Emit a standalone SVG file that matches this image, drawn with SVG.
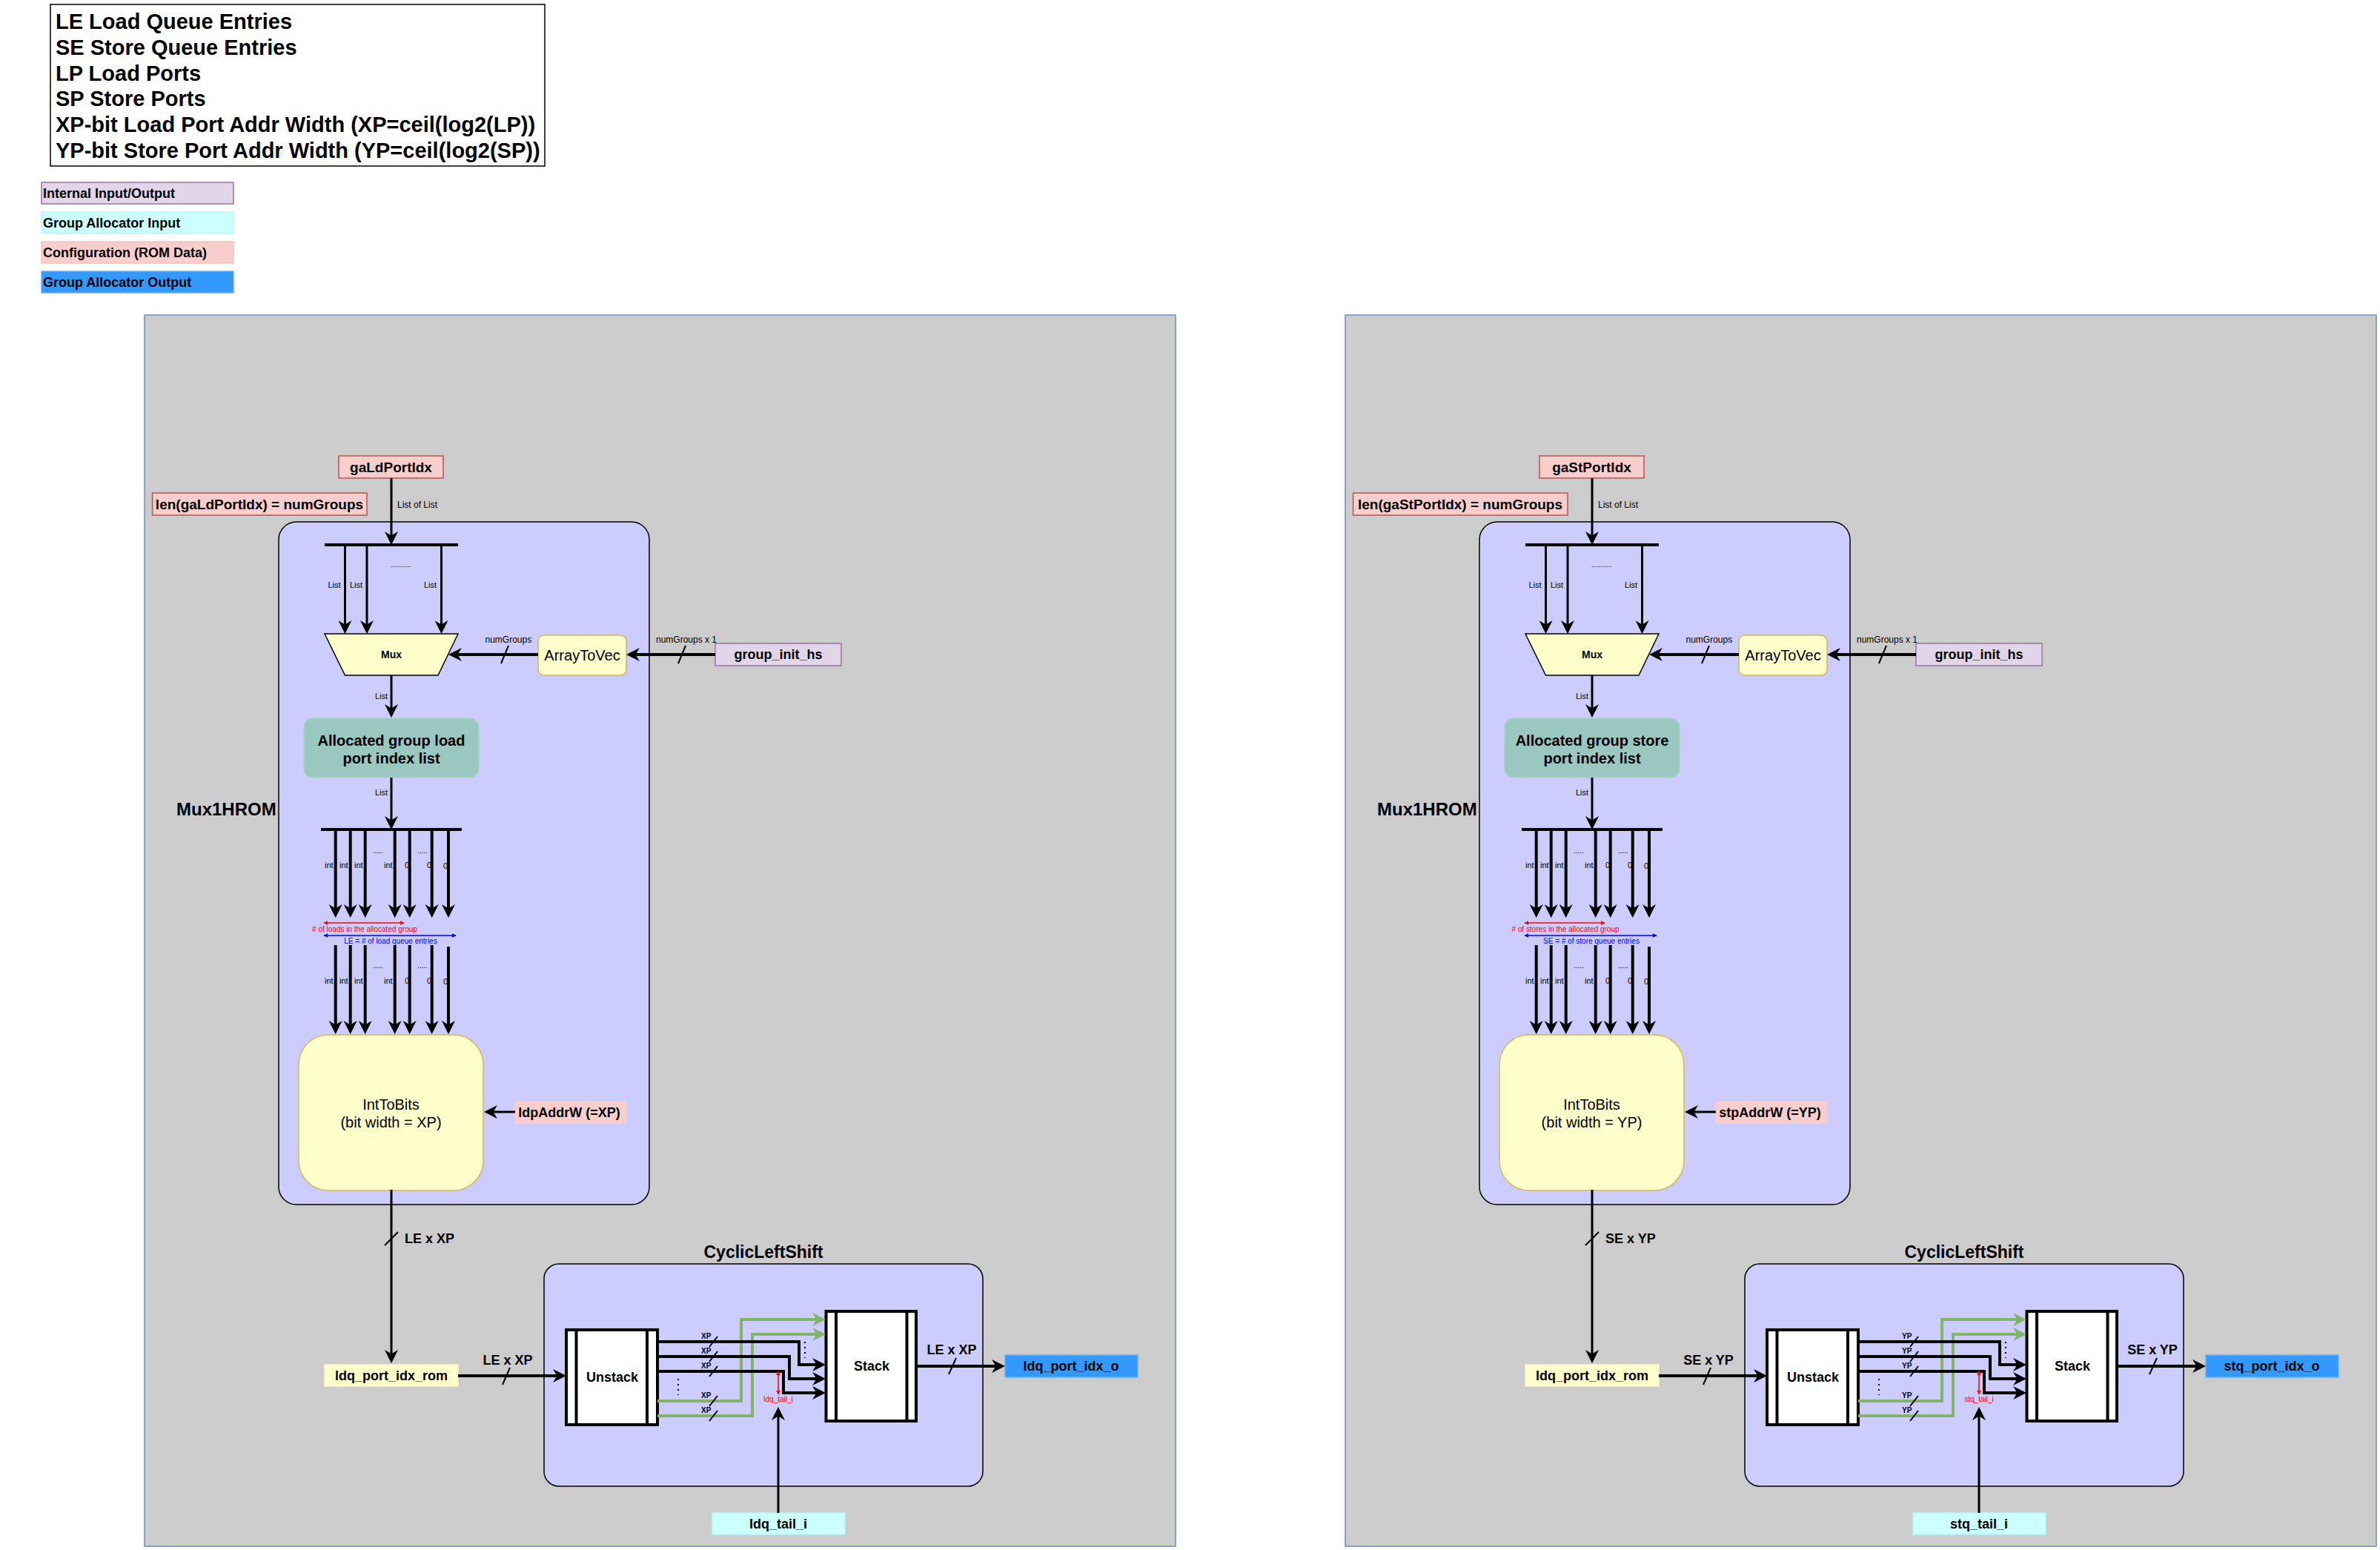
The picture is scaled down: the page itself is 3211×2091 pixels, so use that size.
<svg xmlns="http://www.w3.org/2000/svg" width="3211" height="2091" viewBox="0 0 3211 2091">
<defs>
<style>
.b{font-family:"Liberation Sans",Arial,sans-serif;font-weight:bold;fill:#000}
.r{font-family:"Liberation Sans",Arial,sans-serif;fill:#000}
.m{text-anchor:middle}
.panel{fill:#cccccc;stroke:#6c8ebf;stroke-width:1.5}
.grp{fill:#ccccff;stroke:#000;stroke-width:1.5}
.yel{fill:#ffffcc;stroke:#d6b656;stroke-width:1.5}
.pink{fill:#f8cecc;stroke:#b85450;stroke-width:1.5}
.pinkn{fill:#f8cecc;stroke:#f8cecc;stroke-width:1.5}
.purp{fill:#e1d5e7;stroke:#9673a6;stroke-width:1.5}
.cyan{fill:#ccffff;stroke:#b9f5f5;stroke-width:1.5}
.blue{fill:#3399ff;stroke:#66b2ff;stroke-width:1.5}
.teal{fill:#9ac7bf;stroke:#a9d3cb;stroke-width:1.5}
.romc{fill:#ffffcc;stroke:#fff2cc;stroke-width:1.5}
.proc{fill:#fff;stroke:#000;stroke-width:4}
.w3{fill:none;stroke:#000;stroke-width:3}
.w4{fill:none;stroke:#000;stroke-width:4}
.g4{fill:none;stroke:#82b366;stroke-width:4}
.sl{fill:none;stroke:#000;stroke-width:2}
.a{marker-end:url(#ah)}
.ag{marker-end:url(#ahg)}
</style>
<marker id="ah" viewBox="0 0 20 20" refX="11" refY="10" markerWidth="18" markerHeight="18" markerUnits="userSpaceOnUse" orient="auto"><path d="M0,0 L20,10 L0,20 L6,10 Z" fill="#000"/></marker>
<marker id="ahg" viewBox="0 0 20 20" refX="11" refY="10" markerWidth="18" markerHeight="18" markerUnits="userSpaceOnUse" orient="auto"><path d="M0,0 L20,10 L0,20 L6,10 Z" fill="#82b366"/></marker>
<marker id="sr" viewBox="0 0 10 10" refX="9" refY="5" markerWidth="6" markerHeight="6" markerUnits="userSpaceOnUse" orient="auto-start-reverse"><path d="M0,0 L10,5 L0,10 Z" fill="#ff0000"/></marker>
<marker id="sb" viewBox="0 0 10 10" refX="9" refY="5" markerWidth="6" markerHeight="6" markerUnits="userSpaceOnUse" orient="auto-start-reverse"><path d="M0,0 L10,5 L0,10 Z" fill="#0000ff"/></marker>
</defs>
<rect x="0" y="0" width="3211" height="2091" fill="#ffffff"/>

<g id="legend">
<rect x="68" y="6" width="667" height="218" fill="#fff" stroke="#000" stroke-width="1.5"/>
<text class="b" font-size="29" x="75" y="39">LE Load Queue Entries</text>
<text class="b" font-size="29" x="75" y="74">SE Store Queue Entries</text>
<text class="b" font-size="29" x="75" y="109">LP Load Ports</text>
<text class="b" font-size="29" x="75" y="143">SP Store Ports</text>
<text class="b" font-size="29" x="75" y="178">XP-bit Load Port Addr Width (XP=ceil(log2(LP))</text>
<text class="b" font-size="29" x="75" y="213">YP-bit Store Port Addr Width (YP=ceil(log2(SP))</text>
</g>
<g id="legend-internal"><rect class="purp" x="56" y="246" width="259" height="29"/><text class="b" font-size="18" x="58" y="267">Internal Input/Output</text></g>
<g id="legend-input"><rect class="cyan" x="56" y="286" width="259" height="29"/><text class="b" font-size="18" x="58" y="307">Group Allocator Input</text></g>
<g id="legend-config"><rect fill="#f8cecc" stroke="#f3c0be" stroke-width="1.5" x="56" y="326" width="259" height="29"/><text class="b" font-size="18" x="58" y="347">Configuration (ROM Data)</text></g>
<g id="legend-output"><rect class="blue" x="56" y="366" width="259" height="29"/><text class="b" font-size="18" x="58" y="387">Group Allocator Output</text></g>

<!-- ================= LOAD SIDE ================= -->
<g id="load-side">
<rect id="load-panel" class="panel" x="195" y="425" width="1391" height="1661"/>
<g id="mux1hrom-ld"><rect class="grp" x="376" y="704" width="500" height="921" rx="24"/><text class="b" font-size="24" x="238" y="1100">Mux1HROM</text></g>
<g id="cyclic-ld"><rect class="grp" x="734" y="1705" width="592" height="300" rx="20"/><text class="b m" font-size="23" x="1030" y="1697">CyclicLeftShift</text></g>
<g id="ga-ld-port-idx"><rect class="pink" x="457" y="615" width="141" height="30"/><text class="b m" font-size="19" x="527.5" y="637">gaLdPortIdx</text></g>
<g id="len-ld"><rect class="pink" x="205.6" y="665" width="289.4" height="30"/><text class="b m" font-size="19" x="350" y="687">len(gaLdPortIdx) = numGroups</text></g>
<g id="mux-ld"><polygon points="438,855 618,855 591,911 465.5,911" fill="#ffffcc" stroke="#000" stroke-width="1.5"/><text class="b m" font-size="14" x="528" y="888">Mux</text></g>
<g id="arraytovec-ld"><rect class="yel" x="726" y="857" width="119" height="54" rx="8"/><text class="r m" font-size="20" x="785.5" y="891">ArrayToVec</text></g>
<g id="group-init-hs-ld"><rect class="purp" x="965" y="868" width="170" height="30"/><text class="b m" font-size="18" x="1050" y="889">group_init_hs</text></g>
<g id="alloc-ld"><rect class="teal" x="410" y="969" width="236" height="80" rx="12"/><text class="b m" font-size="20" x="528" y="1006">Allocated group load</text><text class="b m" font-size="20" x="528" y="1030">port index list</text></g>
<g id="inttobits-ld"><rect class="yel" x="403" y="1396" width="249" height="210" rx="40"/><text class="r m" font-size="20" x="527.5" y="1497">IntToBits</text><text class="r m" font-size="20" x="527.5" y="1521">(bit width = XP)</text></g>
<g id="ldpaddrw"><rect class="pinkn" x="695" y="1486" width="150" height="29"/><text class="b m" font-size="18" x="768" y="1507">ldpAddrW (=XP)</text></g>
<g id="ldq-port-idx-rom-ld"><rect class="romc" x="438" y="1841" width="180" height="29"/><text class="b m" font-size="18" x="528" y="1862">ldq_port_idx_rom</text></g>
<g id="unstack-ld"><rect class="proc" x="764" y="1794" width="123" height="128"/><line class="w4" x1="777.5" y1="1794" x2="777.5" y2="1922"/><line class="w4" x1="873" y1="1794" x2="873" y2="1922"/><text class="b m" font-size="18" x="826" y="1864">Unstack</text></g>
<g id="stack-ld"><rect class="proc" x="1114.5" y="1769" width="121.5" height="148"/><line class="w4" x1="1128" y1="1769" x2="1128" y2="1917"/><line class="w4" x1="1223.5" y1="1769" x2="1223.5" y2="1917"/><text class="b m" font-size="18" x="1176" y="1849">Stack</text></g>
<g id="ldq-port-idx-o"><rect class="blue" x="1356" y="1828" width="179" height="30"/><text class="b m" font-size="18" x="1445" y="1849">ldq_port_idx_o</text></g>
<g id="ldq-tail-i"><rect class="cyan" x="961" y="2041" width="179" height="29"/><text class="b m" font-size="18" x="1050" y="2062">ldq_tail_i</text></g>

<g id="connectors-ld">
<path class="w3 a" d="M528,645 V727"/>
<text class="r" font-size="12" x="536" y="685">List of List</text>
<path class="w4" d="M438,735 H618"/>
<path class="w3 a" d="M465.5,735 V847"/>
<path class="w3 a" d="M495,735 V847"/>
<path class="w3 a" d="M595.5,735 V847"/>
<text class="r" font-size="11" x="442.5" y="793">List</text>
<text class="r" font-size="11" x="472" y="793">List</text>
<text class="r" font-size="11" x="572" y="793">List</text>
<text class="r" font-size="9" x="527" y="765" fill="#333">...........</text>
<path class="w4 a" d="M726,883 H613"/>
<line class="sl" x1="676" y1="895" x2="686" y2="871"/>
<text class="r" font-size="12" x="654.5" y="867">numGroups</text>
<path class="w4 a" d="M965,883 H853"/>
<line class="sl" x1="915" y1="895" x2="925" y2="871"/>
<text class="r" font-size="12" x="885" y="867">numGroups x 1</text>
<path class="w3 a" d="M528,911 V960"/>
<text class="r" font-size="11" x="506" y="943">List</text>
<path class="w3 a" d="M528,1049 V1111"/>
<text class="r" font-size="11" x="506" y="1073">List</text>
<path class="w4" d="M433,1119 H623"/>
<path class="w4 a" d="M452.7,1119 V1230"/>
<path class="w4 a" d="M472.7,1119 V1230"/>
<path class="w4 a" d="M492.7,1119 V1230"/>
<path class="w4 a" d="M532.7,1119 V1230"/>
<path class="w4 a" d="M552.7,1119 V1230"/>
<path class="w4 a" d="M582.7,1119 V1230"/>
<path class="w4 a" d="M605,1119 V1230"/>
<text class="r" font-size="11" x="438" y="1171">int</text>
<text class="r" font-size="11" x="458" y="1171">int</text>
<text class="r" font-size="11" x="478" y="1171">int</text>
<text class="r" font-size="11" x="518" y="1171">int</text>
<text class="r" font-size="11" x="546" y="1171">0</text>
<text class="r" font-size="11" x="576" y="1171">0</text>
<text class="r" font-size="11" x="598" y="1172">0</text>
<text class="r" font-size="10" x="503" y="1151">.....</text>
<text class="r" font-size="10" x="563" y="1151">.....</text>
<line x1="437" y1="1245" x2="545" y2="1245" stroke="#ff0000" stroke-width="1.5" marker-start="url(#sr)" marker-end="url(#sr)"/>
<text class="r m" font-size="10" x="492" y="1257" style="fill:#ff0000"># of loads in the allocated group</text>
<line x1="437" y1="1262" x2="615" y2="1262" stroke="#0000ff" stroke-width="1.5" marker-start="url(#sb)" marker-end="url(#sb)"/>
<text class="r m" font-size="10" x="527" y="1273" style="fill:#0000ff">LE = # of load queue entries</text>
<path class="w4 a" d="M452.7,1275 V1387"/>
<path class="w4 a" d="M472.7,1275 V1387"/>
<path class="w4 a" d="M492.7,1275 V1387"/>
<path class="w4 a" d="M532.7,1275 V1387"/>
<path class="w4 a" d="M552.7,1275 V1387"/>
<path class="w4 a" d="M582.7,1275 V1387"/>
<path class="w4 a" d="M605,1277 V1387"/>
<text class="r" font-size="11" x="438" y="1327">int</text>
<text class="r" font-size="11" x="458" y="1327">int</text>
<text class="r" font-size="11" x="478" y="1327">int</text>
<text class="r" font-size="11" x="518" y="1327">int</text>
<text class="r" font-size="11" x="546" y="1327">0</text>
<text class="r" font-size="11" x="576" y="1327">0</text>
<text class="r" font-size="11" x="598" y="1328">0</text>
<text class="r" font-size="10" x="503" y="1306">.....</text>
<text class="r" font-size="10" x="563" y="1306">.....</text>
<path class="w3 a" d="M695,1500 H661"/>
<path class="w3 a" d="M528,1605 V1831"/>
<line class="sl" x1="519" y1="1680" x2="537" y2="1662"/>
<text class="b" font-size="18" x="546" y="1677">LE x XP</text>
<path class="w4 a" d="M618,1856 H756"/>
<line class="sl" x1="678" y1="1868" x2="688" y2="1845"/>
<text class="b m" font-size="18" x="685" y="1841">LE x XP</text>
<path class="g4 ag" d="M887,1890 H1000 V1780 H1106"/>
<path class="g4 ag" d="M887,1910 H1015 V1800 H1106"/>
<path class="w4 a" d="M887,1810 H1078 V1841 H1106"/>
<path class="w4 a" d="M887,1830 H1065 V1860 H1106"/>
<path class="w4 a" d="M887,1850 H1057 V1879 H1106"/>
<line class="sl" x1="957" y1="1817" x2="968" y2="1803"/>
<line class="sl" x1="957" y1="1837" x2="968" y2="1823"/>
<line class="sl" x1="957" y1="1857" x2="968" y2="1843"/>
<line class="sl" x1="957" y1="1897" x2="968" y2="1883"/>
<line class="sl" x1="957" y1="1917" x2="968" y2="1903"/>
<text class="b" font-size="10" x="946" y="1806">XP</text>
<text class="b" font-size="10" x="946" y="1826">XP</text>
<text class="b" font-size="10" x="946" y="1846">XP</text>
<text class="b" font-size="10" x="946" y="1886">XP</text>
<text class="b" font-size="10" x="946" y="1906">XP</text>
<line x1="915" y1="1860" x2="915" y2="1882" stroke="#000" stroke-width="2" stroke-dasharray="2,5"/>
<line x1="1086" y1="1810" x2="1086" y2="1832" stroke="#000" stroke-width="2" stroke-dasharray="2,5"/>
<line x1="1050" y1="1850" x2="1050" y2="1881" stroke="#ff0000" stroke-width="1.5" marker-start="url(#sr)" marker-end="url(#sr)"/>
<text class="r m" font-size="10" x="1050" y="1891" style="fill:#ff0000">ldq_tail_i</text>
<path class="w3 a" d="M1050,2041 V1906"/>
<path class="w4 a" d="M1236,1843 H1348"/>
<line class="sl" x1="1280" y1="1854" x2="1290" y2="1832"/>
<text class="b m" font-size="18" x="1284" y="1827">LE x XP</text>
</g>
</g>

<!-- ================= STORE SIDE ================= -->
<g id="store-side" transform="translate(1620,0)">
<rect id="store-panel" class="panel" x="195" y="425" width="1391" height="1661"/>
<g id="mux1hrom-st"><rect class="grp" x="376" y="704" width="500" height="921" rx="24"/><text class="b" font-size="24" x="238" y="1100">Mux1HROM</text></g>
<g id="cyclic-st"><rect class="grp" x="734" y="1705" width="592" height="300" rx="20"/><text class="b m" font-size="23" x="1030" y="1697">CyclicLeftShift</text></g>
<g id="ga-st-port-idx"><rect class="pink" x="457" y="615" width="141" height="30"/><text class="b m" font-size="19" x="527.5" y="637">gaStPortIdx</text></g>
<g id="len-st"><rect class="pink" x="205.6" y="665" width="289.4" height="30"/><text class="b m" font-size="19" x="350" y="687">len(gaStPortIdx) = numGroups</text></g>
<g id="mux-st"><polygon points="438,855 618,855 591,911 465.5,911" fill="#ffffcc" stroke="#000" stroke-width="1.5"/><text class="b m" font-size="14" x="528" y="888">Mux</text></g>
<g id="arraytovec-st"><rect class="yel" x="726" y="857" width="119" height="54" rx="8"/><text class="r m" font-size="20" x="785.5" y="891">ArrayToVec</text></g>
<g id="group-init-hs-st"><rect class="purp" x="965" y="868" width="170" height="30"/><text class="b m" font-size="18" x="1050" y="889">group_init_hs</text></g>
<g id="alloc-st"><rect class="teal" x="410" y="969" width="236" height="80" rx="12"/><text class="b m" font-size="20" x="528" y="1006">Allocated group store</text><text class="b m" font-size="20" x="528" y="1030">port index list</text></g>
<g id="inttobits-st"><rect class="yel" x="403" y="1396" width="249" height="210" rx="40"/><text class="r m" font-size="20" x="527.5" y="1497">IntToBits</text><text class="r m" font-size="20" x="527.5" y="1521">(bit width = YP)</text></g>
<g id="stpaddrw"><rect class="pinkn" x="695" y="1486" width="150" height="29"/><text class="b m" font-size="18" x="768" y="1507">stpAddrW (=YP)</text></g>
<g id="ldq-port-idx-rom-st"><rect class="romc" x="438" y="1841" width="180" height="29"/><text class="b m" font-size="18" x="528" y="1862">ldq_port_idx_rom</text></g>
<g id="unstack-st"><rect class="proc" x="764" y="1794" width="123" height="128"/><line class="w4" x1="777.5" y1="1794" x2="777.5" y2="1922"/><line class="w4" x1="873" y1="1794" x2="873" y2="1922"/><text class="b m" font-size="18" x="826" y="1864">Unstack</text></g>
<g id="stack-st"><rect class="proc" x="1114.5" y="1769" width="121.5" height="148"/><line class="w4" x1="1128" y1="1769" x2="1128" y2="1917"/><line class="w4" x1="1223.5" y1="1769" x2="1223.5" y2="1917"/><text class="b m" font-size="18" x="1176" y="1849">Stack</text></g>
<g id="stq-port-idx-o"><rect class="blue" x="1356" y="1828" width="179" height="30"/><text class="b m" font-size="18" x="1445" y="1849">stq_port_idx_o</text></g>
<g id="stq-tail-i"><rect class="cyan" x="961" y="2041" width="179" height="29"/><text class="b m" font-size="18" x="1050" y="2062">stq_tail_i</text></g>

<g id="connectors-st">
<path class="w3 a" d="M528,645 V727"/>
<text class="r" font-size="12" x="536" y="685">List of List</text>
<path class="w4" d="M438,735 H618"/>
<path class="w3 a" d="M465.5,735 V847"/>
<path class="w3 a" d="M495,735 V847"/>
<path class="w3 a" d="M595.5,735 V847"/>
<text class="r" font-size="11" x="442.5" y="793">List</text>
<text class="r" font-size="11" x="472" y="793">List</text>
<text class="r" font-size="11" x="572" y="793">List</text>
<text class="r" font-size="9" x="527" y="765" fill="#333">...........</text>
<path class="w4 a" d="M726,883 H613"/>
<line class="sl" x1="676" y1="895" x2="686" y2="871"/>
<text class="r" font-size="12" x="654.5" y="867">numGroups</text>
<path class="w4 a" d="M965,883 H853"/>
<line class="sl" x1="915" y1="895" x2="925" y2="871"/>
<text class="r" font-size="12" x="885" y="867">numGroups x 1</text>
<path class="w3 a" d="M528,911 V960"/>
<text class="r" font-size="11" x="506" y="943">List</text>
<path class="w3 a" d="M528,1049 V1111"/>
<text class="r" font-size="11" x="506" y="1073">List</text>
<path class="w4" d="M433,1119 H623"/>
<path class="w4 a" d="M452.7,1119 V1230"/>
<path class="w4 a" d="M472.7,1119 V1230"/>
<path class="w4 a" d="M492.7,1119 V1230"/>
<path class="w4 a" d="M532.7,1119 V1230"/>
<path class="w4 a" d="M552.7,1119 V1230"/>
<path class="w4 a" d="M582.7,1119 V1230"/>
<path class="w4 a" d="M605,1119 V1230"/>
<text class="r" font-size="11" x="438" y="1171">int</text>
<text class="r" font-size="11" x="458" y="1171">int</text>
<text class="r" font-size="11" x="478" y="1171">int</text>
<text class="r" font-size="11" x="518" y="1171">int</text>
<text class="r" font-size="11" x="546" y="1171">0</text>
<text class="r" font-size="11" x="576" y="1171">0</text>
<text class="r" font-size="11" x="598" y="1172">0</text>
<text class="r" font-size="10" x="503" y="1151">.....</text>
<text class="r" font-size="10" x="563" y="1151">.....</text>
<line x1="437" y1="1245" x2="545" y2="1245" stroke="#ff0000" stroke-width="1.5" marker-start="url(#sr)" marker-end="url(#sr)"/>
<text class="r m" font-size="10" x="492" y="1257" style="fill:#ff0000"># of stores in the allocated group</text>
<line x1="437" y1="1262" x2="615" y2="1262" stroke="#0000ff" stroke-width="1.5" marker-start="url(#sb)" marker-end="url(#sb)"/>
<text class="r m" font-size="10" x="527" y="1273" style="fill:#0000ff">SE = # of store queue entries</text>
<path class="w4 a" d="M452.7,1275 V1387"/>
<path class="w4 a" d="M472.7,1275 V1387"/>
<path class="w4 a" d="M492.7,1275 V1387"/>
<path class="w4 a" d="M532.7,1275 V1387"/>
<path class="w4 a" d="M552.7,1275 V1387"/>
<path class="w4 a" d="M582.7,1275 V1387"/>
<path class="w4 a" d="M605,1277 V1387"/>
<text class="r" font-size="11" x="438" y="1327">int</text>
<text class="r" font-size="11" x="458" y="1327">int</text>
<text class="r" font-size="11" x="478" y="1327">int</text>
<text class="r" font-size="11" x="518" y="1327">int</text>
<text class="r" font-size="11" x="546" y="1327">0</text>
<text class="r" font-size="11" x="576" y="1327">0</text>
<text class="r" font-size="11" x="598" y="1328">0</text>
<text class="r" font-size="10" x="503" y="1306">.....</text>
<text class="r" font-size="10" x="563" y="1306">.....</text>
<path class="w3 a" d="M695,1500 H661"/>
<path class="w3 a" d="M528,1605 V1831"/>
<line class="sl" x1="519" y1="1680" x2="537" y2="1662"/>
<text class="b" font-size="18" x="546" y="1677">SE x YP</text>
<path class="w4 a" d="M618,1856 H756"/>
<line class="sl" x1="678" y1="1868" x2="688" y2="1845"/>
<text class="b m" font-size="18" x="685" y="1841">SE x YP</text>
<path class="g4 ag" d="M887,1890 H1000 V1780 H1106"/>
<path class="g4 ag" d="M887,1910 H1015 V1800 H1106"/>
<path class="w4 a" d="M887,1810 H1078 V1841 H1106"/>
<path class="w4 a" d="M887,1830 H1065 V1860 H1106"/>
<path class="w4 a" d="M887,1850 H1057 V1879 H1106"/>
<line class="sl" x1="957" y1="1817" x2="968" y2="1803"/>
<line class="sl" x1="957" y1="1837" x2="968" y2="1823"/>
<line class="sl" x1="957" y1="1857" x2="968" y2="1843"/>
<line class="sl" x1="957" y1="1897" x2="968" y2="1883"/>
<line class="sl" x1="957" y1="1917" x2="968" y2="1903"/>
<text class="b" font-size="10" x="946" y="1806">YP</text>
<text class="b" font-size="10" x="946" y="1826">YP</text>
<text class="b" font-size="10" x="946" y="1846">YP</text>
<text class="b" font-size="10" x="946" y="1886">YP</text>
<text class="b" font-size="10" x="946" y="1906">YP</text>
<line x1="915" y1="1860" x2="915" y2="1882" stroke="#000" stroke-width="2" stroke-dasharray="2,5"/>
<line x1="1086" y1="1810" x2="1086" y2="1832" stroke="#000" stroke-width="2" stroke-dasharray="2,5"/>
<line x1="1050" y1="1850" x2="1050" y2="1881" stroke="#ff0000" stroke-width="1.5" marker-start="url(#sr)" marker-end="url(#sr)"/>
<text class="r m" font-size="10" x="1050" y="1891" style="fill:#ff0000">stq_tail_i</text>
<path class="w3 a" d="M1050,2041 V1906"/>
<path class="w4 a" d="M1236,1843 H1348"/>
<line class="sl" x1="1280" y1="1854" x2="1290" y2="1832"/>
<text class="b m" font-size="18" x="1284" y="1827">SE x YP</text>
</g>
</g>
</svg>
